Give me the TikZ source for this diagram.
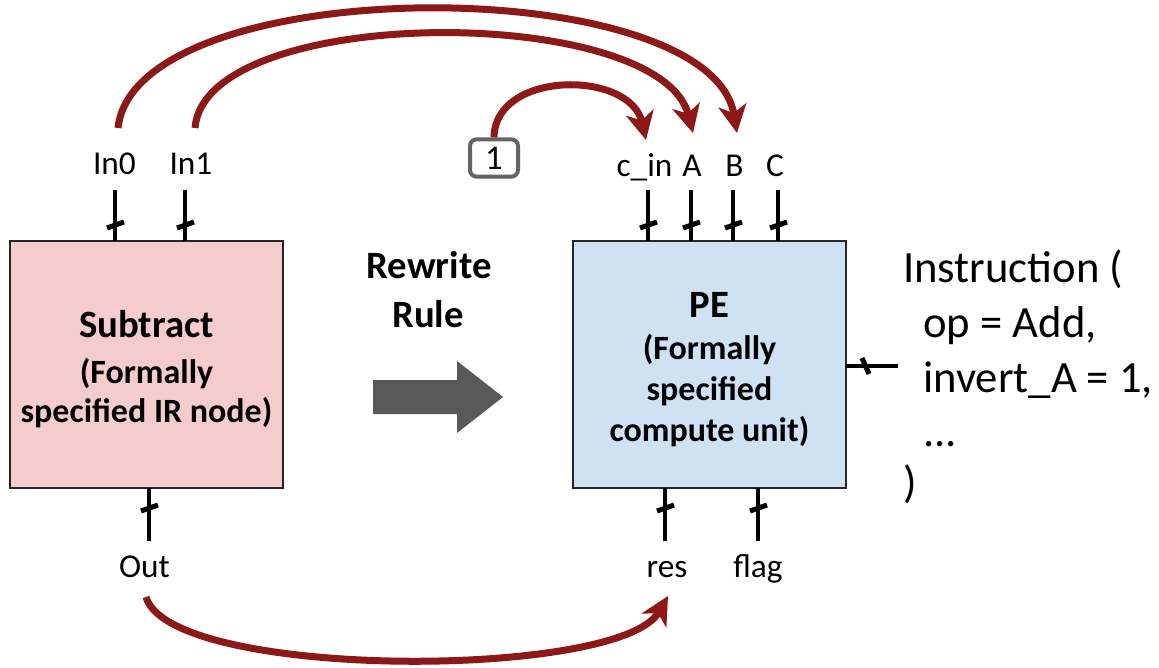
\documentclass[tikz,border=0pt]{standalone}
\usepackage{fontspec}
\setmainfont{Carlito}
\usetikzlibrary{arrows.meta}
\definecolor{pinkfill}{RGB}{244,204,204}
\definecolor{bluefill}{RGB}{207,226,243}
\definecolor{arcred}{RGB}{140,24,24}
\definecolor{bigarrow}{RGB}{89,89,89}
\definecolor{constgray}{RGB}{100,100,100}

\begin{document}
\begin{tikzpicture}[x=0.75pt,y=-0.75pt,
  block/.style={draw=black!85, line width=1.5pt, inner sep=0pt, outer sep=0pt,
    minimum width=204.75pt, minimum height=185.25pt, anchor=north west},
  title/.style={font=\bfseries\fontsize{29}{35}\selectfont, anchor=base, inner sep=0pt},
  subtitle/.style={font=\bfseries\fontsize{25.5}{30}\selectfont, anchor=base, inner sep=0pt},
  portlabel/.style={font=\fontsize{25}{30}\selectfont, anchor=base, inner sep=0pt},
  instr/.style={font=\fontsize{33.5}{40}\selectfont, anchor=base west, inner sep=0pt},
  wire/.style={line width=3pt},
  tickmark/.style={line width=3.75pt},
  flow/.style={draw=arcred, line width=5.25pt,
    -{Stealth[length=21pt,width=21pt,inset=6pt]}},
  constbox/.style={draw=constgray, line width=3pt, rounded corners=5pt,
    minimum width=36pt, minimum height=28pt, inner sep=0pt,
    font=\fontsize{26}{30}\selectfont}]

\useasboundingbox (0,0) rectangle (1159,667);

% ---- the two blocks ----
\node[block, fill=pinkfill] (sub) at (10,241) {};
\node[block, fill=bluefill] (pe)  at (573,241) {};

\node[title]    (subT) at (146.5,337) {Subtract};
\node[subtitle] (subA) at (146.5,383) {(Formally};
\node[subtitle] (subB) at (146.5,422) {specified IR node)};

\node[title]    (peT) at (709.5,317) {PE};
\node[subtitle] (peA) at (709.5,359) {(Formally};
\node[subtitle] (peB) at (709.5,400) {specified};
\node[subtitle] (peC) at (709.5,441) {compute unit)};

% ---- rewrite rule ----
\node[title] (rw1) at (429,278) {Rewrite};
\node[title] (rw2) at (428,327) {Rule};
\fill[bigarrow] (373,380) -- (457,380) -- (457,361) -- (503,397) -- (457,433)
  -- (457,414) -- (373,414) -- cycle;

% ---- port wires with bus ticks ----
\newcommand{\wiretick}[2]{\draw[tickmark] (#1-8,#2+3) -- (#1+9,#2-3);}

\foreach \nm/\px in {in0/115, in1/185, cin/648, pa/691, pb/733, pc/778}{
  \coordinate (\nm w) at (\px,190);
}
\foreach \nm in {in0, in1}{ \draw[wire] (\nm w) -- (\nm w |- sub.north); }
\foreach \nm in {cin, pa, pb, pc}{ \draw[wire] (\nm w) -- (\nm w |- pe.north); }
\foreach \px in {115,185,648,691,733,778}{ \wiretick{\px}{225} }

\foreach \nm/\px in {out/149, res/665, flag/758}{
  \coordinate (\nm w) at (\px,541);
}
\draw[wire] (outw) -- (outw |- sub.south);
\draw[wire] (resw) -- (resw |- pe.south);
\draw[wire] (flagw) -- (flagw |- pe.south);
\foreach \px in {149,665,758}{ \wiretick{\px}{508} }

\coordinate (instrw) at (898,366);
\draw[wire] (pe.east |- instrw) -- (instrw);
\draw[tickmark] (862,358) -- (869,374);

% ---- port labels ----
\node[portlabel] (lin0) at (114.5,174) {In0};
\node[portlabel] (lin1) at (191,174) {In1};
\node[portlabel] (lcin) at (644.5,176) {c\_in};
\node[portlabel] (la)   at (692,176) {A};
\node[portlabel] (lb)   at (734.5,176) {B};
\node[portlabel] (lc)   at (775,176) {C};
\node[portlabel] (lout) at (144.5,577) {Out};
\node[portlabel] (lres) at (667,577) {res};
\node[portlabel] (lflag) at (758,577) {flag};

% ---- instruction text ----
\node[instr] (i1) at (903,282) {Instruction (};
\node[instr] (i2) at (923,337) {op = Add,};
\node[instr] (i3) at (923,392) {invert\_A = 1,};
\node[instr] (i4) at (923,446) {...};
\node[instr] (i5) at (903,497) {)};

% ---- constant input ----
\node[constbox] (one) at (494,158) {1};

% ---- rewrite correspondences ----
\coordinate (in0src) at (118,128);
\coordinate (in1src) at (195,128);
\coordinate (outsrc) at (146,597);
\coordinate (cindst) at (646,140);
\coordinate (adst)   at (693,133);
\coordinate (bdst)   at (737,133);
\coordinate (resdst) at (668,596);

\draw[flow] (in0src) .. controls (135,-30) and (710,-30) .. (bdst);
\draw[flow] (in1src) .. controls (205,3) and (660,3) .. (adst);
\draw[flow] (one.north) .. controls (495,70) and (630,70) .. (cindst);
\draw[flow] (outsrc) .. controls (170,680) and (620,680) .. (resdst);

\end{tikzpicture}
\end{document}
